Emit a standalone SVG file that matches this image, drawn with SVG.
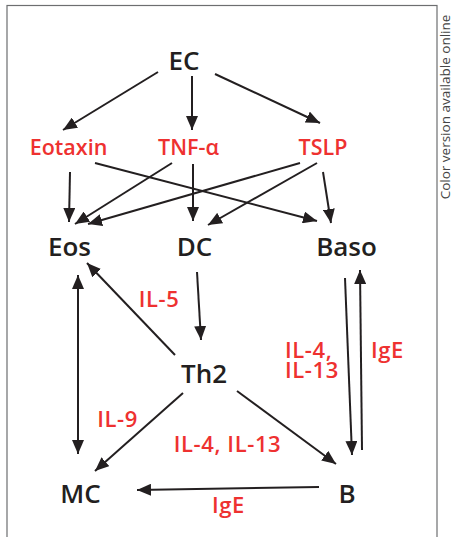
<svg xmlns="http://www.w3.org/2000/svg" width="454" height="537" viewBox="0 0 454 537">
  <style>
    .node { font-family: "Open Sans", "Liberation Sans", sans-serif; font-weight: 600; font-size: 26px; fill: #231f20; text-anchor: middle; }
    .med { font-family: "Open Sans", "Liberation Sans", sans-serif; font-weight: 600; font-size: 21.5px; fill: #ee3130; text-anchor: middle; }
    .lbl { font-family: "Open Sans", "Liberation Sans", sans-serif; font-weight: 600; font-size: 22px; letter-spacing: 0.6px; fill: #ee3130; }
    .edge { stroke: #231f20; stroke-width: 2; fill: none; }
    .side { font-family: "Open Sans", "Liberation Sans", sans-serif; font-size: 13.5px; fill: #444; text-anchor: middle; }
  </style>
  <defs>
    <marker id="ah" viewBox="0 0 14 12" refX="14" refY="6" markerWidth="14" markerHeight="12" markerUnits="userSpaceOnUse" orient="auto-start-reverse">
      <path d="M0,0 L14,6 L0,12 Z" fill="#231f20"/>
    </marker>
  </defs>

  <!-- frame -->
  <rect x="7" y="5.5" width="430" height="540" fill="none" stroke="#6d6e70" stroke-width="1.2"/>
  <text class="side" transform="translate(450,107) rotate(-90)">Color version available online</text>

  <!-- connectors -->
  <g id="connectors">
    <line class="edge" x1="158" y1="72" x2="63" y2="130" marker-end="url(#ah)"/>
    <line class="edge" x1="192" y1="76" x2="192" y2="130" marker-end="url(#ah)"/>
    <line class="edge" x1="215" y1="74" x2="320" y2="123" marker-end="url(#ah)"/>

    <line class="edge" x1="70" y1="172" x2="69" y2="222" marker-end="url(#ah)"/>
    <line class="edge" x1="95" y1="163" x2="317" y2="221" marker-end="url(#ah)"/>
    <line class="edge" x1="172" y1="163" x2="75" y2="224" marker-end="url(#ah)"/>
    <line class="edge" x1="193" y1="164" x2="193" y2="221" marker-end="url(#ah)"/>
    <line class="edge" x1="300" y1="163" x2="88" y2="224" marker-end="url(#ah)"/>
    <line class="edge" x1="317" y1="163" x2="208" y2="225" marker-end="url(#ah)"/>
    <line class="edge" x1="323" y1="172" x2="331" y2="223" marker-end="url(#ah)"/>

    <line class="edge" x1="197" y1="272" x2="201" y2="340" marker-end="url(#ah)"/>
    <line class="edge" x1="175" y1="355" x2="87" y2="263" marker-end="url(#ah)"/>
    <line class="edge" x1="78" y1="275" x2="78" y2="454" marker-start="url(#ah)" marker-end="url(#ah)"/>
    <line class="edge" x1="183" y1="393" x2="95" y2="471" marker-end="url(#ah)"/>
    <line class="edge" x1="237" y1="391" x2="336" y2="464" marker-end="url(#ah)"/>
    <line class="edge" x1="319" y1="487" x2="137" y2="490" marker-end="url(#ah)"/>
    <line class="edge" x1="345" y1="278" x2="352" y2="455" marker-end="url(#ah)"/>
    <line class="edge" x1="362" y1="450" x2="360" y2="270" marker-end="url(#ah)"/>
  </g>

  <!-- nodes -->
  <g id="EC"><text class="node" x="184" y="70">EC</text></g>
  <g id="Eotaxin"><text class="med" x="68.5" y="155">Eotaxin</text></g>
  <g id="TNF"><text class="med" x="188.5" y="155">TNF-α</text></g>
  <g id="TSLP"><text class="med" x="323" y="155">TSLP</text></g>
  <g id="Eos"><text class="node" x="69.5" y="256">Eos</text></g>
  <g id="DC"><text class="node" x="194.5" y="256">DC</text></g>
  <g id="Baso"><text class="node" x="346.5" y="256">Baso</text></g>
  <g id="Th2"><text class="node" x="204" y="383">Th2</text></g>
  <g id="MC"><text class="node" x="80.5" y="503">MC</text></g>
  <g id="B"><text class="node" x="347" y="503">B</text></g>

  <!-- edge labels -->
  <g id="labels">
    <text class="lbl" x="159" y="307" text-anchor="middle">IL-5</text>
    <text class="lbl" y="358"><tspan x="285">IL-4,</tspan><tspan x="285" dy="19.5">IL-13</tspan></text>
    <text class="lbl" x="387.5" y="358" text-anchor="middle">IgE</text>
    <text class="lbl" x="117.5" y="427" text-anchor="middle">IL-9</text>
    <text class="lbl" x="227.5" y="452" text-anchor="middle">IL-4, IL-13</text>
    <text class="lbl" x="228.5" y="513" text-anchor="middle">IgE</text>
  </g>
</svg>
